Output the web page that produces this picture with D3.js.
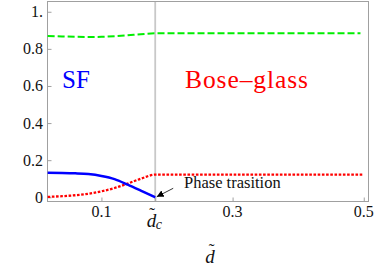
<!DOCTYPE html>
<html>
<head>
<meta charset="utf-8">
<script src="https://cdn.jsdelivr.net/npm/d3@7"></script>
<style>
  body { margin: 0; background: #fff; }
  svg { display: block; }
  svg text { font-family: "Liberation Serif", "Times New Roman", Times, Tinos, "DejaVu Serif", "Noto Serif", serif; }
</style>
</head>
<body>
<div id="chart"></div>
<script>
// data
var d_tilde    = [0.018, 0.04, 0.06, 0.08, 0.10, 0.12, 0.14, 0.16, 0.182, 0.3, 0.495, 0.5];
var sf_line    = [0.132, 0.131, 0.129, 0.125, 0.115, 0.098, 0.068, 0.036, 0, null, null, null];
var glass_line = [0.002, 0.006, 0.011, 0.019, 0.032, 0.05, 0.074, 0.1, 0.122, 0.122, 0.122, 0.122];
var top_line   = [0.870, 0.867, 0.865, 0.864, 0.865, 0.868, 0.873, 0.879, 0.884, 0.884, 0.884, null];
var d_c        = 0.182;
var y_ticks    = [0, 0.2, 0.4, 0.6, 0.8, 1];
var y_labels   = ['0', '0.2', '0.4', '0.6', '0.8', '1.'];
var x_ticks    = [0.1, d_c, 0.3, 0.5];
var x_labels   = ['0.1', '', '0.3', '0.5'];

var chart_width  = 374;
var chart_height = 265;
var frame_left = 47, frame_right = 369, frame_top = 1, frame_bottom = 201;

var svg = d3.select('#chart')
    .append('svg')
    .attr('width', chart_width)
    .attr('height', chart_height)
    .attr('font-family', '"Liberation Serif", "Times New Roman", serif');

var x_scale = d3.scaleLinear().domain([0.017, 0.508]).range([frame_left, frame_right]);
var y_scale = d3.scaleLinear().domain([-0.02, 1.058]).range([frame_bottom, frame_top]);

// vertical line at d_c
svg.append('line')
    .attr('x1', x_scale(d_c)).attr('x2', x_scale(d_c))
    .attr('y1', frame_top).attr('y2', frame_bottom)
    .attr('stroke', '#c8c8c8')
    .attr('stroke-width', 1.8);

// frame
svg.append('rect')
    .attr('x', frame_left + 0.5).attr('y', frame_top + 0.5)
    .attr('width', frame_right - frame_left - 1).attr('height', frame_bottom - frame_top)
    .attr('fill', 'none')
    .attr('stroke', '#a0a0a0')
    .attr('stroke-width', 1);

// axes with inside ticks
var y_axis = d3.axisRight(y_scale)
    .tickValues(y_ticks)
    .tickSize(4)
    .tickFormat('');
svg.append('g')
    .attr('transform', 'translate(' + (frame_left + 0.5) + ',0)')
    .call(y_axis)
    .call(function(g) {
        g.select('.domain').remove();
        g.selectAll('line').attr('stroke', '#a0a0a0');
    });

var x_axis = d3.axisTop(x_scale)
    .tickValues(x_ticks)
    .tickSize(4)
    .tickFormat('');
svg.append('g')
    .attr('transform', 'translate(0,' + (frame_bottom + 0.5) + ')')
    .call(x_axis)
    .call(function(g) {
        g.select('.domain').remove();
        g.selectAll('line').attr('stroke', '#a0a0a0');
    });

// tick labels
svg.selectAll('.ylab')
    .data(y_ticks)
    .enter()
    .append('text')
    .attr('class', 'ylab')
    .attr('x', 43)
    .attr('y', function(d) { return y_scale(d) + 5.5; })
    .attr('text-anchor', 'end')
    .attr('font-size', '16px')
    .attr('fill', '#111')
    .text(function(d, i) { return y_labels[i]; });

svg.selectAll('.xlab')
    .data(x_ticks)
    .enter()
    .append('text')
    .attr('class', 'xlab')
    .attr('x', function(d) { return x_scale(d); })
    .attr('y', 217)
    .attr('text-anchor', 'middle')
    .attr('font-size', '16px')
    .attr('fill', '#111')
    .text(function(d, i) { return x_labels[i]; });

// d~_c tick label
var dc_x = x_scale(d_c);
svg.append('text')
    .attr('x', dc_x - 8.5).attr('y', 226.7)
    .attr('font-size', '19px').attr('font-style', 'italic')
    .attr('fill', '#111')
    .text('d');
svg.append('text')
    .attr('x', dc_x + 0.5).attr('y', 228.5)
    .attr('font-size', '14px').attr('font-style', 'italic')
    .attr('fill', '#111')
    .text('c');
svg.append('text')
    .attr('x', dc_x - 3).attr('y', 219)
    .attr('text-anchor', 'middle')
    .attr('font-size', '17px')
    .attr('fill', '#111')
    .text('\u02DC');

// axis title d~
var title_x = 210;
svg.append('text')
    .attr('x', title_x).attr('y', 263)
    .attr('text-anchor', 'middle')
    .attr('font-size', '19px').attr('font-style', 'italic')
    .attr('fill', '#111')
    .text('d');
svg.append('text')
    .attr('x', title_x + 1.5).attr('y', 255)
    .attr('text-anchor', 'middle')
    .attr('font-size', '17px')
    .attr('fill', '#111')
    .text('\u02DC');

// curves
var rows = d_tilde.map(function(d, i) {
    return {d: d, sf: sf_line[i], glass: glass_line[i], top: top_line[i]};
});

function make_line(key) {
    return d3.line()
        .defined(function(r) { return r[key] !== null; })
        .x(function(r) { return x_scale(r.d); })
        .y(function(r) { return y_scale(r[key]); })
        .curve(d3.curveMonotoneX);
}

svg.append('path')
    .datum(rows)
    .attr('d', make_line('top'))
    .attr('fill', 'none')
    .attr('stroke', '#00ee00')
    .attr('stroke-width', 2)
    .attr('stroke-dasharray', '7,3');

svg.append('path')
    .datum(rows)
    .attr('d', make_line('glass'))
    .attr('fill', 'none')
    .attr('stroke', '#ff0000')
    .attr('stroke-width', 2.3)
    .attr('stroke-dasharray', '2.6,1.6');

svg.append('path')
    .datum(rows)
    .attr('d', make_line('sf'))
    .attr('fill', 'none')
    .attr('stroke', '#0000ff')
    .attr('stroke-width', 2.5);

// phase labels
svg.append('text')
    .attr('x', 62).attr('y', 88.3)
    .attr('font-size', '25px')
    .attr('fill', '#0000ff')
    .text('SF');

svg.append('text')
    .attr('x', 185).attr('y', 88.3)
    .attr('font-size', '25.5px')
    .attr('textLength', 123)
    .attr('lengthAdjust', 'spacing')
    .attr('fill', '#ff0000')
    .text('Bose\u2013glass');

// arrow + annotation
svg.append('defs').append('marker')
    .attr('id', 'head')
    .attr('viewBox', '0 0 10 10')
    .attr('refX', 10).attr('refY', 5)
    .attr('markerWidth', 7).attr('markerHeight', 7)
    .attr('markerUnits', 'userSpaceOnUse')
    .attr('orient', 'auto')
    .append('path')
    .attr('d', 'M0,0 L10,5 L0,10 Z')
    .attr('fill', '#000');

svg.append('line')
    .attr('x1', dc_x + 18).attr('y1', y_scale(0) - 9)
    .attr('x2', dc_x + 1.5).attr('y2', y_scale(0) - 0.5)
    .attr('stroke', '#000')
    .attr('stroke-width', 0.8)
    .attr('marker-end', 'url(#head)');

svg.append('text')
    .attr('x', 184).attr('y', 188)
    .attr('font-size', '16.5px')
    .attr('fill', '#111')
    .text('Phase trasition');
</script>
</body>
</html>
